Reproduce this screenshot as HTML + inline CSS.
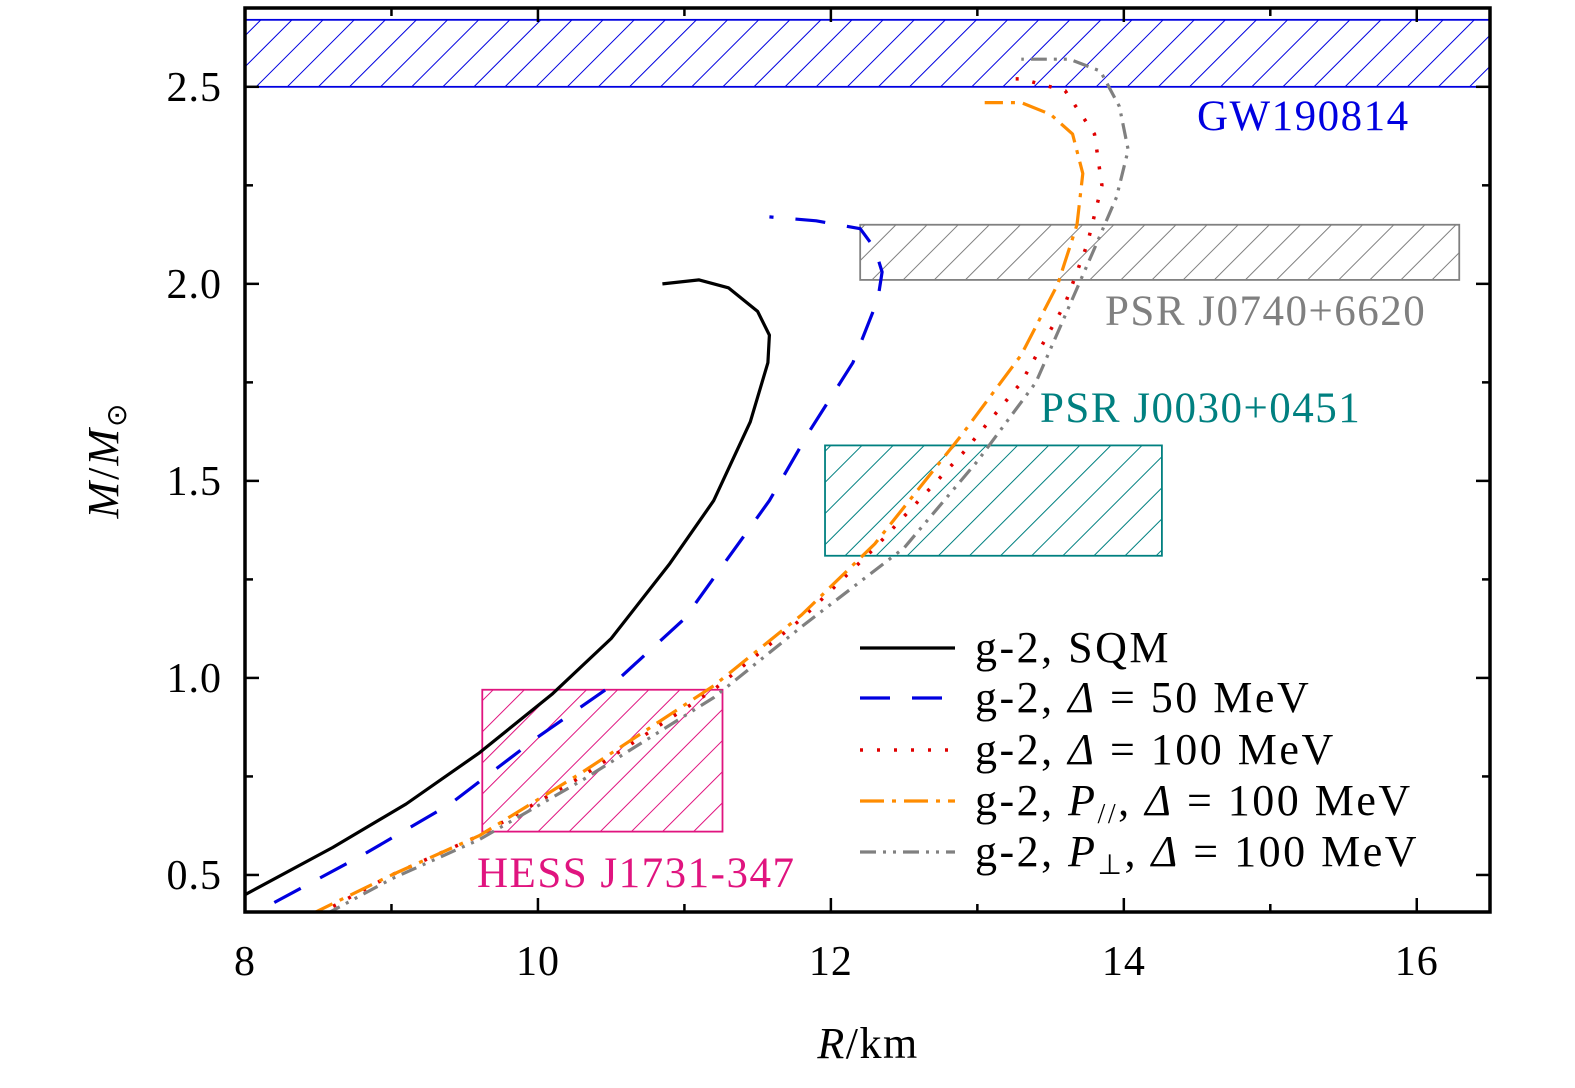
<!DOCTYPE html>
<html><head><meta charset="utf-8"><style>
html,body{margin:0;padding:0;background:#fff}
svg text{font-family:"Liberation Serif",serif}
</style></head><body>
<svg id="chart" width="1575" height="1083" xmlns="http://www.w3.org/2000/svg">
<defs>
<pattern id="hb" patternUnits="userSpaceOnUse" width="22" height="22" patternTransform="rotate(45)"><line x1="0" y1="0" x2="0" y2="22" stroke="#0000e0" stroke-width="2"/></pattern>
<pattern id="hg" patternUnits="userSpaceOnUse" width="22" height="22" patternTransform="rotate(45)"><line x1="0" y1="0" x2="0" y2="22" stroke="#808080" stroke-width="2"/></pattern>
<pattern id="ht" patternUnits="userSpaceOnUse" width="22" height="22" patternTransform="rotate(45)"><line x1="0" y1="0" x2="0" y2="22" stroke="#008080" stroke-width="2"/></pattern>
<pattern id="hm" patternUnits="userSpaceOnUse" width="22" height="22" patternTransform="rotate(45)"><line x1="0" y1="0" x2="0" y2="22" stroke="#e0147f" stroke-width="2"/></pattern>
<clipPath id="clip"><rect x="245" y="8" width="1245" height="904"/></clipPath>
</defs>
<g id="boxes" clip-path="url(#clip)"></g>
<g id="curves" clip-path="url(#clip)"></g>
<g id="axes"></g>
<g id="legend"></g>
</svg>
<script>
const NS="http://www.w3.org/2000/svg";
const X0=245,X1=1490,Y0=912,Y1=8;
const xMin=8,xMax=16.5,yMin=0.406,yMax=2.7;
function sx(v){return X0+(v-xMin)/(xMax-xMin)*(X1-X0);}
function sy(v){return Y0-(v-yMin)/(yMax-yMin)*(Y0-Y1);}
const xTicks=[8,10,12,14,16];
const xMinor=[9,11,13,15];
const yTicks=[0.5,1.0,1.5,2.0,2.5];
const yTickLabels=["0.5","1.0","1.5","2.0","2.5"];
const yMinor=[0.75,1.25,1.75,2.25];
const sqmR=[8.0,8.6,9.1,9.6,10.1,10.5,10.9,11.2,11.45,11.57,11.58,11.5,11.3,11.1,10.85];
const sqmM=[0.45,0.57,0.68,0.81,0.96,1.1,1.29,1.45,1.65,1.8,1.87,1.93,1.99,2.01,2.0];
const d50R=[8.2,8.8,9.4,10.0,10.5,11.0,11.58,11.86,12.15,12.32,12.35,12.3,12.2,11.9,11.58];
const d50M=[0.43,0.55,0.68,0.85,0.98,1.15,1.45,1.63,1.8,1.96,2.03,2.09,2.14,2.16,2.17];
const d100R=[8.5,9.0,9.6,10.3,11.2,11.8,12.3,12.9,13.3,13.6,13.75,13.85,13.8,13.6,13.3,13.2];
const d100M=[0.40,0.5,0.6,0.75,0.97,1.15,1.33,1.57,1.75,1.95,2.1,2.25,2.38,2.49,2.52,2.52];
const parR=[8.45,9.0,9.6,10.3,11.2,11.8,12.3,12.9,13.3,13.55,13.68,13.72,13.65,13.5,13.3,13.05];
const parM=[0.40,0.5,0.6,0.76,0.98,1.16,1.34,1.62,1.82,2.0,2.15,2.28,2.38,2.43,2.46,2.46];
const perR=[8.55,9.0,9.6,10.3,11.2,11.8,12.5,13.0,13.4,13.8,13.95,14.03,13.97,13.84,13.63,13.3];
const perM=[0.40,0.49,0.59,0.74,0.95,1.13,1.33,1.55,1.75,2.09,2.22,2.34,2.45,2.54,2.57,2.57];
const boxNames=["gw190814","psr-j0740","psr-j0030","hess-j1731"];
const boxR0=[7.5,12.2,11.96,9.62],boxR1=[17,16.29,14.26,11.26];
const boxM0=[2.5,2.01,1.31,0.61],boxM1=[2.67,2.15,1.59,0.97];
const boxFill=["url(#hb)","url(#hg)","url(#ht)","url(#hm)"];
const boxStroke=["#0000e0","#808080","#008080","#e0147f"];
const boxLabel=["GW190814","PSR J0740+6620","PSR J0030+0451","HESS J1731-347"];
const labelX=[1197,1105,1040,477];
const labelY=[130,325,422,887];
function el(t,a,p){const e=document.createElementNS(NS,t);for(const k in a)e.setAttribute(k,a[k]);p.appendChild(e);return e;}
const boxes=document.getElementById('boxes'),curves=document.getElementById('curves'),axes=document.getElementById('axes'),legend=document.getElementById('legend'),svg=document.getElementById('chart');
for(let i=0;i<4;i++){
 const r=el('rect',{x:sx(boxR0[i]),y:sy(boxM1[i]),width:sx(boxR1[i])-sx(boxR0[i]),height:sy(boxM0[i])-sy(boxM1[i]),fill:boxFill[i],stroke:boxStroke[i],'stroke-width':1.8},boxes);
 
 
 const t=el('text',{x:labelX[i],y:labelY[i],fill:boxStroke[i],'font-size':43,'letter-spacing':1.5},svg);
 t.textContent=boxLabel[i];
 
 
}
const series=[
 {n:'sqm-curve',r:sqmR,m:sqmM,c:'#000',d:'',w:3.2},
 {n:'delta50-curve',r:d50R,m:d50M,c:'#0000e0',d:'30,22',w:3.2},
 {n:'delta100-curve',r:d100R,m:d100M,c:'#e00000',d:'3,14',w:3.5},
 {n:'p-parallel-curve',r:parR,m:parM,c:'#ff8c00',d:'24,8,4,8',w:3.2},
 {n:'p-perp-curve',r:perR,m:perM,c:'#808080',d:'16,7,3,7,3,7',w:3.2}];
series.forEach(s=>{
 const pts=s.r.map((v,i)=>sx(v).toFixed(1)+','+sy(s.m[i]).toFixed(1)).join(' ');
 const p=el('polyline',{points:pts,fill:'none',stroke:s.c,'stroke-width':s.w,'stroke-dasharray':s.d,'stroke-linejoin':'round'},curves);
 
 
});
const frame=el('rect',{x:X0,y:Y1,width:X1-X0,height:Y0-Y1,fill:'none',stroke:'#000','stroke-width':3.5},axes);


xTicks.forEach(v=>{const x=sx(v);
 el('line',{x1:x,x2:x,y1:Y0,y2:Y0-14,stroke:'#000','stroke-width':2.5},axes);
 el('line',{x1:x,x2:x,y1:Y1,y2:Y1+14,stroke:'#000','stroke-width':2.5},axes);
 const t=el('text',{x:x,y:975,'text-anchor':'middle','font-size':42,'letter-spacing':1},axes);t.textContent=v;
 
 });
xMinor.forEach(v=>{const x=sx(v);el('line',{x1:x,x2:x,y1:Y0,y2:Y0-8,stroke:'#000','stroke-width':2.5},axes);el('line',{x1:x,x2:x,y1:Y1,y2:Y1+8,stroke:'#000','stroke-width':2.5},axes);});
yTicks.forEach((v,i)=>{const y=sy(v);
 el('line',{x1:X0,x2:X0+14,y1:y,y2:y,stroke:'#000','stroke-width':2.5},axes);
 el('line',{x1:X1,x2:X1-14,y1:y,y2:y,stroke:'#000','stroke-width':2.5},axes);
 const t=el('text',{x:222,y:y+14,'text-anchor':'end','font-size':42,'letter-spacing':1},axes);t.textContent=yTickLabels[i];
 
 });
yMinor.forEach(v=>{const y=sy(v);el('line',{x1:X0,x2:X0+8,y1:y,y2:y,stroke:'#000','stroke-width':2.5},axes);el('line',{x1:X1,x2:X1-8,y1:y,y2:y,stroke:'#000','stroke-width':2.5},axes);});
const xt=el('text',{x:868,y:1058,'text-anchor':'middle','font-size':44,'letter-spacing':1.5},axes);
xt.innerHTML='<tspan font-style="italic">R</tspan>/km';


const yt=el('text',{x:0,y:0,'text-anchor':'middle','font-size':44,'letter-spacing':2,transform:'translate(118,460) rotate(-90)'},axes);
yt.innerHTML='<tspan font-style="italic">M</tspan>/<tspan font-style="italic">M</tspan><tspan font-size="28" dy="8">⊙</tspan>';


const legText=['g-2, SQM','g-2, <tspan font-style="italic">Δ</tspan> = 50 MeV','g-2, <tspan font-style="italic">Δ</tspan> = 100 MeV','g-2, <tspan font-style="italic">P</tspan><tspan font-size="28" dy="8">//</tspan><tspan dy="-8">, </tspan><tspan font-style="italic">Δ</tspan> = 100 MeV','g-2, <tspan font-style="italic">P</tspan><tspan font-size="28" dy="8">⊥</tspan><tspan dy="-8">, </tspan><tspan font-style="italic">Δ</tspan> = 100 MeV'];
const legY=[648,698,750,801,852];
series.forEach((s,i)=>{
 const g=el('g',{},legend);
 
 
 el('line',{x1:860,x2:955,y1:legY[i],y2:legY[i],stroke:s.c,'stroke-width':s.w,'stroke-dasharray':s.d},g);
 const t=el('text',{x:975,y:legY[i]+14,'font-size':44,'letter-spacing':2.5},g);t.innerHTML=legText[i];
});
</script>
</body></html>
